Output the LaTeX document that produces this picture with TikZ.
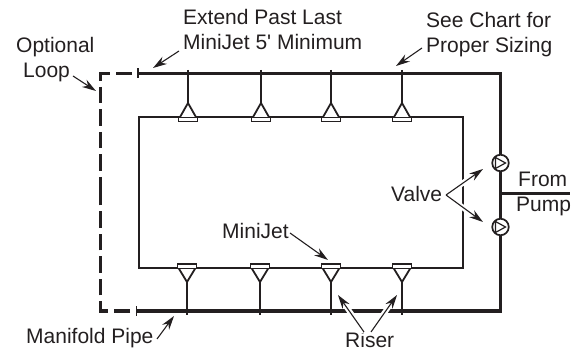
\documentclass[tikz,border=0pt]{standalone}
\usepackage{fontspec}
\setmainfont{Liberation Sans}[Ligatures=TeXOff]
\usetikzlibrary{arrows.meta}
\definecolor{ink}{HTML}{231F20}
\tikzset{
  x=1pt,y=-1pt,
  lab/.style={inner sep=0pt,text=ink,font=\fontsize{21}{25}\selectfont,align=left,anchor=base west},
  pipe/.style={draw=ink,line width=3.2pt},
  inner/.style={draw=ink,line width=2.1pt},
  loop/.style={draw=ink,line width=3.2pt,dash pattern=on 16.5pt off 6pt},
  riser/.style={draw=ink,line width=2.2pt},
  jet/.style={draw=ink,line width=1.8pt,fill=white},
  halo/.style={draw=white,line width=5.5pt},
  call/.style={draw=ink,line width=1.1pt,-{Stealth[length=14pt,width=8.5pt]}},
  valve/.style={circle,draw=ink,line width=1.7pt,fill=white,minimum size=16.5pt,inner sep=0pt},
  tick/.style={draw=ink,line width=1.2pt},
}
\newcommand{\topjet}[2]{%
  \coordinate (#2a) at (#1,70); \coordinate (#2b) at (#1,103);
  \draw[riser] (#2a) -- (#2b);
  \draw[jet] (#1-8.5,118) -- (#2b) -- (#1+8.5,118);
  \draw[jet] (#1-9.5,117.5) rectangle (#1+9.5,121.5);
}
\newcommand{\botjet}[2]{%
  \coordinate (#2a) at (#1,315); \coordinate (#2b) at (#1,282);
  \draw[riser] (#2a) -- (#2b);
  \draw[jet] (#1-8.5,268) -- (#2b) -- (#1+8.5,268);
  \draw[jet] (#1-9.5,264) rectangle (#1+9.5,268.5);
}
\begin{document}
\begin{tikzpicture}
\useasboundingbox (0,0) rectangle (579,352);
% corners and ends
\coordinate (tl) at (138,73.5); \coordinate (bl) at (137,311);
\coordinate (tr) at (500.5,73.5); \coordinate (br) at (500.5,311);
\coordinate (ltl) at (100.5,73.5); \coordinate (lbl) at (100.5,311);
\coordinate (lmid) at (100.5,192);
\coordinate (pump) at (570,193.7); \coordinate (tee) at (500.5,193.7);
\coordinate (i1) at (139,117); \coordinate (i2) at (463,117);
\coordinate (i3) at (463,268); \coordinate (i4) at (139,268);
\coordinate (ls1) at (132,73.5); \coordinate (ls2) at (130,311);
% dashed optional loop
\draw[loop] (ls1) -- (ltl) -- (lmid);
\draw[loop] (ls2) -- (lbl) -- (lmid);
\draw[tick] (138,68.5) -- (138,78.5);
\draw[tick] (136.7,306.5) -- (136.7,316);
% inner header
\draw[inner,line join=miter] (i1) -- (i2) -- (i3) -- (i4) -- cycle;
% manifold
\draw[pipe,line join=miter] (tl) -- (tr) -- (br) -- (bl);
\draw[pipe] (tee) -- (pump);
% jets
\topjet{188}{ta}\topjet{261}{tb}\topjet{331}{tc}\topjet{402}{td}
\botjet{187}{ba}\botjet{260}{bb}\botjet{331}{bc}\botjet{402}{bd}
% valves
\node[valve] (v1) at (500.5,163) {};
\node[valve] (v2) at (500.5,227) {};
\draw[tick] (495.5,157.5) -- (505.5,163) -- (495.5,168.5) -- cycle;
\draw[tick] (495.5,221.5) -- (505.5,227) -- (495.5,232.5) -- cycle;
% labels
\node[lab] (ext) at (183,50) {Extend Past Last\\MiniJet 5' Minimum};
\node[lab] (see) at (426,53) {See Chart for\\Proper Sizing};
\node[lab] (opt) at (16,78) {Optional\\\hspace*{7pt}Loop};
\node[lab] (val) at (391,202) {Valve};
\node[lab] (from) at (518,187) {From};
\node[lab] (pmp) at (516,212) {Pump};
\node[lab] (mj) at (222,239) {MiniJet};
\node[lab] (man) at (26,344) {Manifold Pipe};
\node[lab] (ris) at (345,348) {Riser};
% callouts
\coordinate (a1s) at (179,51); \coordinate (a1e) at (153,68);
\coordinate (a2s) at (422,48); \coordinate (a2e) at (396,66);
\coordinate (a3s) at (73,76); \coordinate (a3e) at (96,91);
\coordinate (a4s) at (290,233); \coordinate (a4e) at (328,260);
\coordinate (a5s) at (157,339); \coordinate (a5e) at (174,316);
\coordinate (a6s) at (364,332); \coordinate (a6e) at (338,295);
\coordinate (a7s) at (371,332); \coordinate (a7e) at (397,295);
\coordinate (a8s) at (446,195); \coordinate (a8e) at (483,169);
\coordinate (a9e) at (483,222);
\coordinate (h6) at (343,302); \coordinate (h7) at (392,302);
\coordinate (h8) at (477,173); \coordinate (h9) at (477,218);
\foreach \s/\e in {a6s/h6,a7s/h7,a8s/h8,a8s/h9}{\draw[halo] (\s) -- (\e);}
\foreach \s/\e in {a1s/a1e,a2s/a2e,a3s/a3e,a4s/a4e,a5s/a5e,a6s/a6e,a7s/a7e,a8s/a8e,a8s/a9e}{\draw[call] (\s) -- (\e);}
\end{tikzpicture}
\end{document}
